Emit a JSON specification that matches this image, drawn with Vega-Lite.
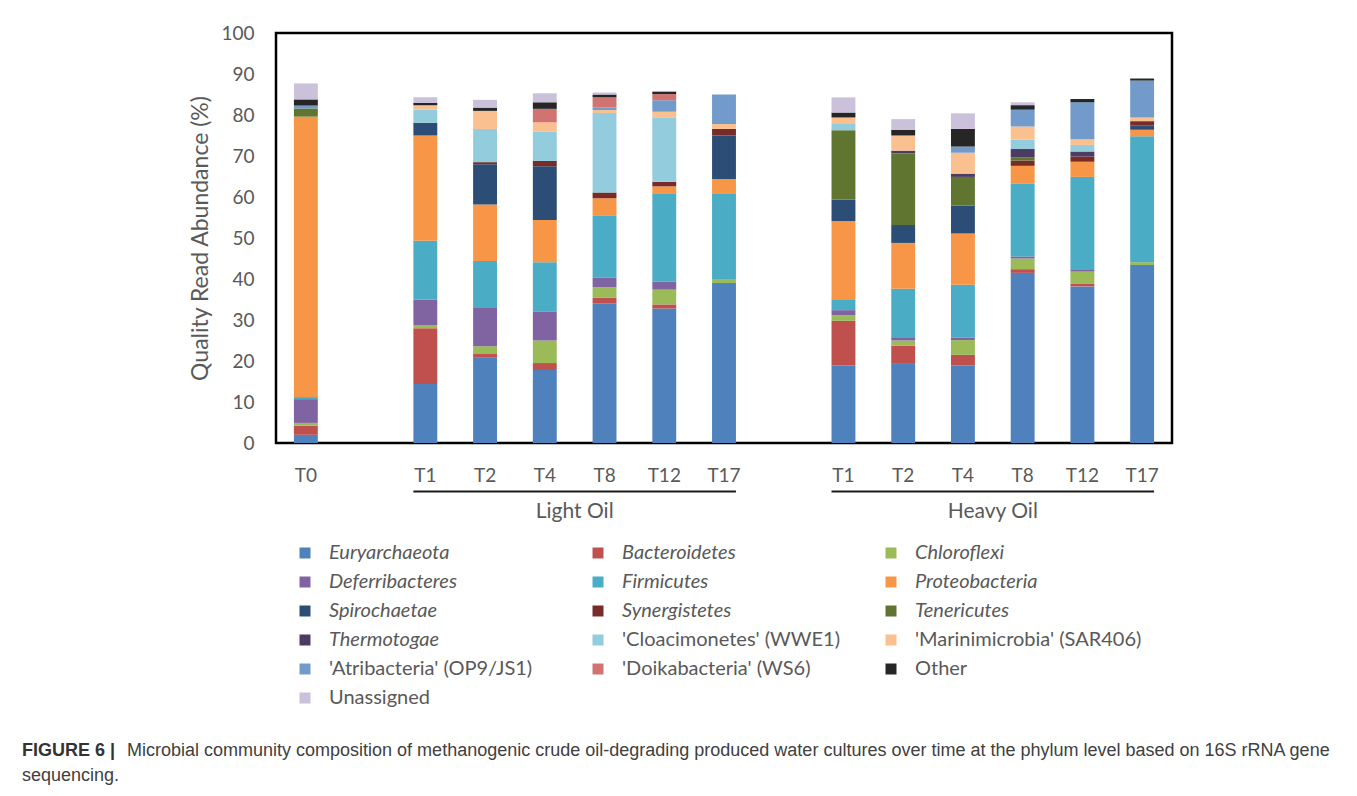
{
  "$schema": "https://vega.github.io/schema/vega-lite/v6.json",
  "width": 896,
  "height": 410,
  "padding": {"left": 22, "top": 24, "right": 5, "bottom": 5},
  "background": "white",
  "datasets": {
    "phyla": [
      {"p": "Euryarchaeota", "k": 0},
      {"p": "Bacteroidetes", "k": 1},
      {"p": "Chloroflexi", "k": 2},
      {"p": "Deferribacteres", "k": 3},
      {"p": "Firmicutes", "k": 4},
      {"p": "Proteobacteria", "k": 5},
      {"p": "Spirochaetae", "k": 6},
      {"p": "Synergistetes", "k": 7},
      {"p": "Tenericutes", "k": 8},
      {"p": "Thermotogae", "k": 9},
      {"p": "'Cloacimonetes' (WWE1)", "k": 10},
      {"p": "'Marinimicrobia' (SAR406)", "k": 11},
      {"p": "'Atribacteria' (OP9/JS1)", "k": 12},
      {"p": "'Doikabacteria' (WS6)", "k": 13},
      {"p": "Other", "k": 14},
      {"p": "Unassigned", "k": 15}
    ],
    "bars": [
      {"s": "0:T0", "p": "Euryarchaeota", "v": 2.0},
      {"s": "0:T0", "p": "Bacteroidetes", "v": 2.2},
      {"s": "0:T0", "p": "Chloroflexi", "v": 0.7},
      {"s": "0:T0", "p": "Deferribacteres", "v": 5.8},
      {"s": "0:T0", "p": "Firmicutes", "v": 0.5},
      {"s": "0:T0", "p": "Proteobacteria", "v": 68.4},
      {"s": "0:T0", "p": "Tenericutes", "v": 2.0},
      {"s": "0:T0", "p": "'Atribacteria' (OP9/JS1)", "v": 0.7},
      {"s": "0:T0", "p": "Other", "v": 1.5},
      {"s": "0:T0", "p": "Unassigned", "v": 3.9},

      {"s": "L:T1", "p": "Euryarchaeota", "v": 14.4},
      {"s": "L:T1", "p": "Bacteroidetes", "v": 13.6},
      {"s": "L:T1", "p": "Chloroflexi", "v": 0.8},
      {"s": "L:T1", "p": "Deferribacteres", "v": 6.2},
      {"s": "L:T1", "p": "Firmicutes", "v": 14.3},
      {"s": "L:T1", "p": "Proteobacteria", "v": 25.7},
      {"s": "L:T1", "p": "Spirochaetae", "v": 3.1},
      {"s": "L:T1", "p": "'Cloacimonetes' (WWE1)", "v": 3.2},
      {"s": "L:T1", "p": "'Marinimicrobia' (SAR406)", "v": 1.1},
      {"s": "L:T1", "p": "Other", "v": 0.5},
      {"s": "L:T1", "p": "Unassigned", "v": 1.4},

      {"s": "L:T2", "p": "Euryarchaeota", "v": 20.9},
      {"s": "L:T2", "p": "Bacteroidetes", "v": 0.8},
      {"s": "L:T2", "p": "Chloroflexi", "v": 1.9},
      {"s": "L:T2", "p": "Deferribacteres", "v": 9.3},
      {"s": "L:T2", "p": "Firmicutes", "v": 11.5},
      {"s": "L:T2", "p": "Proteobacteria", "v": 13.8},
      {"s": "L:T2", "p": "Spirochaetae", "v": 9.8},
      {"s": "L:T2", "p": "Synergistetes", "v": 0.5},
      {"s": "L:T2", "p": "'Cloacimonetes' (WWE1)", "v": 8.1},
      {"s": "L:T2", "p": "'Marinimicrobia' (SAR406)", "v": 4.4},
      {"s": "L:T2", "p": "Other", "v": 0.8},
      {"s": "L:T2", "p": "Unassigned", "v": 1.9},

      {"s": "L:T4", "p": "Euryarchaeota", "v": 17.8},
      {"s": "L:T4", "p": "Bacteroidetes", "v": 1.7},
      {"s": "L:T4", "p": "Chloroflexi", "v": 5.5},
      {"s": "L:T4", "p": "Deferribacteres", "v": 7.1},
      {"s": "L:T4", "p": "Firmicutes", "v": 12.0},
      {"s": "L:T4", "p": "Proteobacteria", "v": 10.3},
      {"s": "L:T4", "p": "Spirochaetae", "v": 13.1},
      {"s": "L:T4", "p": "Synergistetes", "v": 1.3},
      {"s": "L:T4", "p": "'Cloacimonetes' (WWE1)", "v": 7.1},
      {"s": "L:T4", "p": "'Marinimicrobia' (SAR406)", "v": 2.3},
      {"s": "L:T4", "p": "'Doikabacteria' (WS6)", "v": 3.3},
      {"s": "L:T4", "p": "Other", "v": 1.6},
      {"s": "L:T4", "p": "Unassigned", "v": 2.2},

      {"s": "L:T8", "p": "Euryarchaeota", "v": 34.1},
      {"s": "L:T8", "p": "Bacteroidetes", "v": 1.3},
      {"s": "L:T8", "p": "Chloroflexi", "v": 2.6},
      {"s": "L:T8", "p": "Deferribacteres", "v": 2.4},
      {"s": "L:T8", "p": "Firmicutes", "v": 15.0},
      {"s": "L:T8", "p": "Proteobacteria", "v": 4.3},
      {"s": "L:T8", "p": "Synergistetes", "v": 1.4},
      {"s": "L:T8", "p": "'Cloacimonetes' (WWE1)", "v": 19.4},
      {"s": "L:T8", "p": "'Marinimicrobia' (SAR406)", "v": 0.7},
      {"s": "L:T8", "p": "'Atribacteria' (OP9/JS1)", "v": 0.6},
      {"s": "L:T8", "p": "'Doikabacteria' (WS6)", "v": 2.5},
      {"s": "L:T8", "p": "Other", "v": 0.7},
      {"s": "L:T8", "p": "Unassigned", "v": 0.5},

      {"s": "L:T12", "p": "Euryarchaeota", "v": 32.8},
      {"s": "L:T12", "p": "Bacteroidetes", "v": 1.0},
      {"s": "L:T12", "p": "Chloroflexi", "v": 3.6},
      {"s": "L:T12", "p": "Deferribacteres", "v": 2.0},
      {"s": "L:T12", "p": "Firmicutes", "v": 21.5},
      {"s": "L:T12", "p": "Proteobacteria", "v": 1.7},
      {"s": "L:T12", "p": "Synergistetes", "v": 1.1},
      {"s": "L:T12", "p": "'Cloacimonetes' (WWE1)", "v": 15.6},
      {"s": "L:T12", "p": "'Marinimicrobia' (SAR406)", "v": 1.5},
      {"s": "L:T12", "p": "'Atribacteria' (OP9/JS1)", "v": 2.8},
      {"s": "L:T12", "p": "'Doikabacteria' (WS6)", "v": 1.5},
      {"s": "L:T12", "p": "Other", "v": 0.6},

      {"s": "L:T17", "p": "Euryarchaeota", "v": 39.0},
      {"s": "L:T17", "p": "Chloroflexi", "v": 1.0},
      {"s": "L:T17", "p": "Firmicutes", "v": 20.9},
      {"s": "L:T17", "p": "Proteobacteria", "v": 3.5},
      {"s": "L:T17", "p": "Spirochaetae", "v": 10.6},
      {"s": "L:T17", "p": "Synergistetes", "v": 1.6},
      {"s": "L:T17", "p": "'Marinimicrobia' (SAR406)", "v": 1.2},
      {"s": "L:T17", "p": "'Atribacteria' (OP9/JS1)", "v": 7.2},

      {"s": "H:T1", "p": "Euryarchaeota", "v": 18.9},
      {"s": "H:T1", "p": "Bacteroidetes", "v": 10.9},
      {"s": "H:T1", "p": "Chloroflexi", "v": 1.4},
      {"s": "H:T1", "p": "Deferribacteres", "v": 1.2},
      {"s": "H:T1", "p": "Firmicutes", "v": 2.5},
      {"s": "H:T1", "p": "Proteobacteria", "v": 19.2},
      {"s": "H:T1", "p": "Spirochaetae", "v": 5.2},
      {"s": "H:T1", "p": "Tenericutes", "v": 17.0},
      {"s": "H:T1", "p": "'Cloacimonetes' (WWE1)", "v": 1.7},
      {"s": "H:T1", "p": "'Marinimicrobia' (SAR406)", "v": 1.4},
      {"s": "H:T1", "p": "Other", "v": 1.2},
      {"s": "H:T1", "p": "Unassigned", "v": 3.7},

      {"s": "H:T2", "p": "Euryarchaeota", "v": 19.3},
      {"s": "H:T2", "p": "Bacteroidetes", "v": 4.4},
      {"s": "H:T2", "p": "Chloroflexi", "v": 1.3},
      {"s": "H:T2", "p": "Deferribacteres", "v": 0.8},
      {"s": "H:T2", "p": "Firmicutes", "v": 11.8},
      {"s": "H:T2", "p": "Proteobacteria", "v": 11.2},
      {"s": "H:T2", "p": "Spirochaetae", "v": 4.4},
      {"s": "H:T2", "p": "Tenericutes", "v": 17.5},
      {"s": "H:T2", "p": "Thermotogae", "v": 0.6},
      {"s": "H:T2", "p": "'Marinimicrobia' (SAR406)", "v": 3.7},
      {"s": "H:T2", "p": "Other", "v": 1.4},
      {"s": "H:T2", "p": "Unassigned", "v": 2.6},

      {"s": "H:T4", "p": "Euryarchaeota", "v": 18.9},
      {"s": "H:T4", "p": "Bacteroidetes", "v": 2.6},
      {"s": "H:T4", "p": "Chloroflexi", "v": 3.6},
      {"s": "H:T4", "p": "Deferribacteres", "v": 0.6},
      {"s": "H:T4", "p": "Firmicutes", "v": 12.9},
      {"s": "H:T4", "p": "Proteobacteria", "v": 12.5},
      {"s": "H:T4", "p": "Spirochaetae", "v": 6.8},
      {"s": "H:T4", "p": "Tenericutes", "v": 7.0},
      {"s": "H:T4", "p": "Thermotogae", "v": 0.8},
      {"s": "H:T4", "p": "'Marinimicrobia' (SAR406)", "v": 5.1},
      {"s": "H:T4", "p": "'Atribacteria' (OP9/JS1)", "v": 1.5},
      {"s": "H:T4", "p": "Other", "v": 4.3},
      {"s": "H:T4", "p": "Unassigned", "v": 3.8},

      {"s": "H:T8", "p": "Euryarchaeota", "v": 41.5},
      {"s": "H:T8", "p": "Bacteroidetes", "v": 0.9},
      {"s": "H:T8", "p": "Chloroflexi", "v": 2.6},
      {"s": "H:T8", "p": "Deferribacteres", "v": 0.5},
      {"s": "H:T8", "p": "Firmicutes", "v": 17.7},
      {"s": "H:T8", "p": "Proteobacteria", "v": 4.4},
      {"s": "H:T8", "p": "Synergistetes", "v": 1.3},
      {"s": "H:T8", "p": "Tenericutes", "v": 0.8},
      {"s": "H:T8", "p": "Thermotogae", "v": 2.0},
      {"s": "H:T8", "p": "'Cloacimonetes' (WWE1)", "v": 2.3},
      {"s": "H:T8", "p": "'Marinimicrobia' (SAR406)", "v": 3.2},
      {"s": "H:T8", "p": "'Atribacteria' (OP9/JS1)", "v": 4.1},
      {"s": "H:T8", "p": "Other", "v": 1.1},
      {"s": "H:T8", "p": "Unassigned", "v": 0.7},

      {"s": "H:T12", "p": "Euryarchaeota", "v": 38.2},
      {"s": "H:T12", "p": "Bacteroidetes", "v": 0.6},
      {"s": "H:T12", "p": "Chloroflexi", "v": 3.0},
      {"s": "H:T12", "p": "Deferribacteres", "v": 0.4},
      {"s": "H:T12", "p": "Firmicutes", "v": 22.7},
      {"s": "H:T12", "p": "Proteobacteria", "v": 3.7},
      {"s": "H:T12", "p": "Synergistetes", "v": 1.3},
      {"s": "H:T12", "p": "Thermotogae", "v": 1.2},
      {"s": "H:T12", "p": "'Cloacimonetes' (WWE1)", "v": 1.6},
      {"s": "H:T12", "p": "'Marinimicrobia' (SAR406)", "v": 1.4},
      {"s": "H:T12", "p": "'Atribacteria' (OP9/JS1)", "v": 9.0},
      {"s": "H:T12", "p": "Other", "v": 0.8},

      {"s": "H:T17", "p": "Euryarchaeota", "v": 43.4},
      {"s": "H:T17", "p": "Chloroflexi", "v": 0.7},
      {"s": "H:T17", "p": "Firmicutes", "v": 30.7},
      {"s": "H:T17", "p": "Proteobacteria", "v": 1.6},
      {"s": "H:T17", "p": "Spirochaetae", "v": 1.0},
      {"s": "H:T17", "p": "Synergistetes", "v": 1.1},
      {"s": "H:T17", "p": "'Marinimicrobia' (SAR406)", "v": 0.9},
      {"s": "H:T17", "p": "'Atribacteria' (OP9/JS1)", "v": 9.0},
      {"s": "H:T17", "p": "Other", "v": 0.5}
    ],
    "groups": [
      {"grp": "Light Oil", "a": "L:T1", "b": "L:T17", "m": "L:T4"},
      {"grp": "Heavy Oil", "a": "H:T1", "b": "H:T17", "m": "H:T4"}
    ]
  },
  "title": {
    "text": "FIGURE 6 |",
    "subtitle": [
      "\u200b\u00a0\u00a0\u00a0\u00a0\u00a0\u00a0\u00a0\u00a0\u00a0\u00a0\u00a0\u00a0\u00a0\u00a0\u00a0\u00a0\u00a0\u00a0\u00a0\u00a0\u00a0Microbial community composition of methanogenic crude oil-degrading produced water cultures over time at the phylum level based on 16S rRNA gene",
      "sequencing."
    ],
    "orient": "bottom",
    "anchor": "start",
    "frame": "group",
    "dx": -254,
    "offset": 34,
    "font": "Liberation Sans",
    "fontSize": 18,
    "fontWeight": "bold",
    "color": "#333333",
    "subtitleFont": "Liberation Sans",
    "subtitleFontSize": 18,
    "subtitleFontWeight": "normal",
    "subtitleColor": "#404040",
    "subtitlePadding": -18,
    "subtitleLineHeight": 25
  },
  "layer": [
    {
      "data": {"name": "bars"},
      "transform": [
        {"lookup": "p", "from": {"data": {"name": "phyla"}, "key": "p", "fields": ["k"]}}
      ],
      "mark": {"type": "bar"},
      "encoding": {
        "x": {
          "field": "s",
          "type": "nominal",
          "title": null,
          "scale": {
            "domain": ["0:T0", "g1", "L:T1", "L:T2", "L:T4", "L:T8", "L:T12", "L:T17", "g2", "H:T1", "H:T2", "H:T4", "H:T8", "H:T12", "H:T17"],
            "paddingInner": 0.6,
            "paddingOuter": 0.3
          },
          "axis": {
            "labelExpr": "slice(datum.value, 2)",
            "labelAngle": 0,
            "ticks": false,
            "domain": false,
            "labelPadding": 23,
            "labelFont": "Lato",
            "labelFontSize": 19,
            "labelColor": "#595959"
          }
        },
        "y": {
          "field": "v",
          "type": "quantitative",
          "stack": "zero",
          "title": "Quality Read Abundance (%)",
          "scale": {"domain": [0, 100], "nice": false},
          "axis": {
            "values": [0, 10, 20, 30, 40, 50, 60, 70, 80, 90, 100],
            "ticks": false,
            "domain": false,
            "grid": false,
            "labelPadding": 22,
            "labelFont": "Lato",
            "labelFontSize": 19,
            "labelColor": "#595959",
            "titleFont": "Lato",
            "titleFontSize": 23,
            "titleFontWeight": "normal",
            "titleColor": "#595959",
            "titlePadding": 8
          }
        },
        "order": {"field": "k", "type": "quantitative", "sort": "ascending"},
        "color": {
          "field": "p",
          "type": "nominal",
          "scale": {
            "domain": ["Euryarchaeota", "Bacteroidetes", "Chloroflexi", "Deferribacteres", "Firmicutes", "Proteobacteria", "Spirochaetae", "Synergistetes", "Tenericutes", "Thermotogae", "'Cloacimonetes' (WWE1)", "'Marinimicrobia' (SAR406)", "'Atribacteria' (OP9/JS1)", "'Doikabacteria' (WS6)", "Other", "Unassigned"],
            "range": ["#4F81BD", "#C0504D", "#9BBB59", "#8064A2", "#4BACC6", "#F79646", "#2C4D75", "#772C2A", "#5F7530", "#4D3B62", "#93CDDD", "#FAC090", "#729ACA", "#D07371", "#262626", "#CCC1DA"]
          },
          "legend": {
            "title": null,
            "orient": "none",
            "legendX": 19,
            "legendY": 510,
            "columns": 3,
            "direction": "horizontal",
            "gridAlign": "all",
            "columnPadding": 32,
            "rowPadding": 9,
            "symbolType": "square",
            "symbolSize": 121,
            "symbolStrokeWidth": 0,
            "labelFont": "Lato",
            "labelFontSize": 20,
            "labelColor": "#595959",
            "labelOffset": 14,
            "labelLimit": 400,
            "encode": {
              "labels": {
                "update": {
                  "fontStyle": {"signal": "(datum.value === 'Other' || datum.value === 'Unassigned' || substring(datum.value, 0, 1) === \"'\") ? 'normal' : 'italic'"}
                }
              }
            }
          }
        }
      }
    },
    {
      "data": {"name": "groups"},
      "mark": {"type": "rule", "color": "#1a1a1a", "strokeWidth": 2},
      "encoding": {
        "x": {"field": "a", "type": "nominal", "bandPosition": 0, "title": null},
        "x2": {"field": "b", "bandPosition": 1},
        "y": {"datum": -11.8}
      }
    },
    {
      "data": {"name": "groups"},
      "mark": {"type": "text", "font": "Lato", "fontSize": 21, "color": "#595959", "baseline": "middle", "align": "center"},
      "encoding": {
        "x": {"field": "m", "type": "nominal", "bandPosition": 1.75, "title": null},
        "y": {"datum": -16.8},
        "text": {"field": "grp"}
      }
    }
  ],
  "config": {
    "view": {"stroke": "#000000", "strokeWidth": 2.5}
  }
}
